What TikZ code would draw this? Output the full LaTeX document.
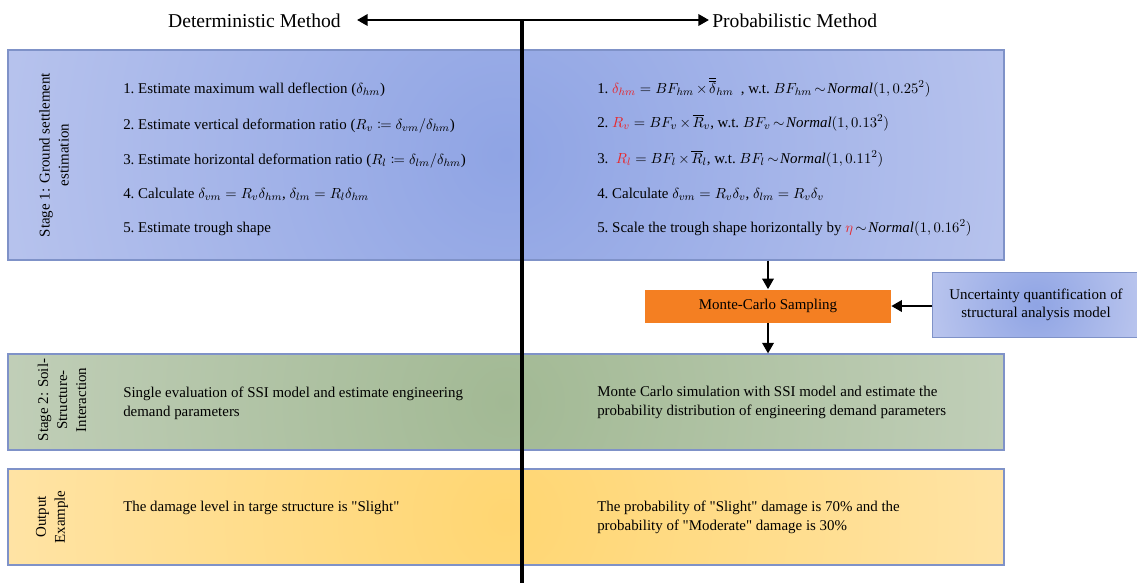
\documentclass[tikz,border=0pt]{standalone}
\usepackage{mathtools}
\usepackage{fontspec}
\setmainfont{Liberation Serif}
\usetikzlibrary{arrows.meta}
\definecolor{s1in}{HTML}{8FA4E4}
\definecolor{s1out}{HTML}{DEE1F6}
\definecolor{s2in}{HTML}{A2B994}
\definecolor{s2out}{HTML}{DFE4DC}
\definecolor{s3in}{HTML}{FFD672}
\definecolor{s3out}{HTML}{FFF1D8}
\definecolor{pborder}{HTML}{7F92C8}
\definecolor{mcorange}{HTML}{F47F22}
\definecolor{redv}{HTML}{E8262A}
\newcommand{\rv}[1]{{\color{redv}#1}}
\newcommand{\nrm}{\mathit{Normal}}
\newcommand{\qq}{\textquotedbl}
\newcommand{\tms}{\mkern3mu{\times}\mkern2mu}
\newcommand{\tld}{\mkern3mu{\sim}\mkern2mu}
\begin{document}
\begin{tikzpicture}[x=0.75pt,y=-0.75pt,
  font=\fontsize{11.2}{14.3}\selectfont,
  panel/.style={draw=pborder, line width=0.8pt, rectangle, inner sep=0pt},
  shadein/.style 2 args={path picture={\shade[inner color=#1, outer color=#2]
      (path picture bounding box.center) circle (760pt);}},
  smallshade/.style 2 args={path picture={\shade[inner color=#1, outer color=#2]
      (path picture bounding box.center) circle (150pt);}},
  item/.style={anchor=base west, inner sep=0pt},
  para/.style={anchor=west, inner sep=0pt, align=left},
  stagelbl/.style={rotate=90, align=center, inner sep=0pt},
  header/.style={font=\fontsize{14.7}{17}\selectfont, inner sep=0pt},
  thickarrow/.style={line width=1.9pt, -{Triangle[length=8pt,width=8.5pt]}},
  dblarrow/.style={line width=1.9pt, {Triangle[length=8pt,width=8.5pt]}-{Triangle[length=8pt,width=8.5pt]}},
]
\useasboundingbox (0,0) rectangle (1137,583);

% header
\node[header, anchor=east] (det) at (341,21) {Deterministic Method};
\node[header, anchor=west] (prob) at (712,21) {Probabilistic Method};
\coordinate (hl) at (357,20);
\coordinate (hr) at (709,20);
\draw[dblarrow] (hl) -- (hr);

% panels
\node[panel, shadein={s1in}{s1out}, minimum width=747pt, minimum height=157.5pt] (s1) at (506,155) {};
\node[panel, shadein={s2in}{s2out}, minimum width=747pt, minimum height=72pt] (s2) at (506,402) {};
\node[panel, shadein={s3in}{s3out}, minimum width=747pt, minimum height=72pt] (s3) at (506,517) {};

% Monte-Carlo and uncertainty
\node[rectangle, fill=mcorange, minimum width=184.5pt, minimum height=24.75pt, inner sep=0pt] (mc) at (768,306) {Monte-Carlo Sampling};
\node[panel, smallshade={s1in}{s1out}, minimum width=155pt, minimum height=48.75pt] (uq) at (1036,305) {};
\node[align=center, inner sep=0pt, font=\fontsize{11.2}{13}\selectfont] (uqt) at (1036,305) {Uncertainty quantification of\\structural analysis model};

% stage labels
\node[stagelbl] (l1) at (54,155) {Stage 1: Ground settlement\\estimation};
\node[stagelbl] (l2) at (62,400) {Stage 2: Soil-\\Structure-\\Interaction};
\node[stagelbl] (l3) at (52,517) {Output\\Example};

% stage 1 left
\node[item] (d1) at (123,93) {1.\ Estimate maximum wall deflection ($\delta_{hm}$)};
\node[item] (d2) at (123,129) {2.\ Estimate vertical deformation ratio ($R_v \coloneqq \delta_{vm}/\delta_{hm}$)};
\node[item] (d3) at (123,164) {3.\ Estimate horizontal deformation ratio ($R_l \coloneqq \delta_{lm}/\delta_{hm}$)};
\node[item] (d4) at (123,198) {4.\ Calculate $\delta_{vm}=R_v\delta_{hm}$, $\delta_{lm}=R_l\delta_{hm}$};
\node[item] (d5) at (123,232) {5.\ Estimate trough shape};

% stage 1 right
\node[item] (p1) at (597,93) {1.\ $\rv{\delta_{hm}} = BF_{hm}\tms\overline{\overline{\delta}}_{hm}$ \ , w.t.\ $BF_{hm}\tld\nrm(1,0.25^2)$};
\node[item] (p2) at (597,127) {2.\ $\rv{R_v} = BF_v\tms\overline{R}_v$, w.t.\ $BF_v\tld\nrm(1,0.13^2)$};
\node[item] (p3) at (597,163) {3.\ \ $\rv{R_l} = BF_l\tms\overline{R}_l$, w.t.\ $BF_l\tld\nrm(1,0.11^2)$};
\node[item] (p4) at (597,198) {4.\ Calculate $\delta_{vm}=R_v\delta_v$, $\delta_{lm}=R_v\delta_v$};
\node[item] (p5) at (597,232) {5.\ Scale the trough shape horizontally by $\rv{\eta}\tld\nrm(1,0.16^2)$};

% stage 2
\node[para] (t2l) at (123,403) {Single evaluation of SSI model and estimate engineering\\demand parameters};
\node[para] (t2r) at (597,402) {Monte Carlo simulation with SSI model and estimate the\\probability distribution of engineering demand parameters};

% output
\node[para] (t3l) at (123,508) {The damage level in targe structure is \qq Slight\qq};
\node[para] (t3r) at (597,517) {The probability of \qq Slight\qq{} damage is 70\% and the\\probability of \qq Moderate\qq{} damage is 30\%};

% connectors
\draw[thickarrow] (mc.north |- s1.south) -- (mc.north);
\draw[thickarrow] (mc.south) -- (mc.south |- s2.north);
\draw[thickarrow] (uq.west |- mc.east) -- (mc.east);

% central divider
\coordinate (vtop) at (522,20);
\coordinate (vbot) at (522,583);
\draw[line width=2.6pt] (vtop) -- (vbot);
\end{tikzpicture}
\end{document}
